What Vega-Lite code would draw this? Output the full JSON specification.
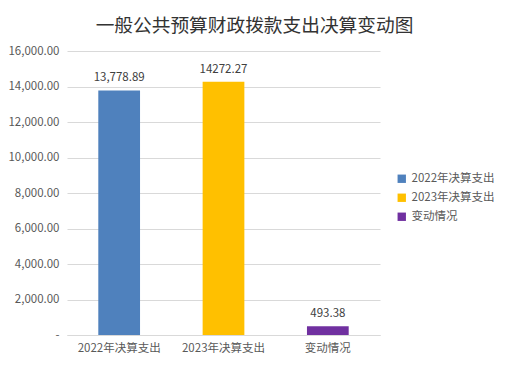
{
  "$schema": "https://vega.github.io/schema/vega-lite/v6.json",
  "width": 313,
  "height": 284,
  "autosize": {"type": "none"},
  "padding": {"left": 67, "top": 51, "right": 128, "bottom": 34},
  "background": "white",
  "title": {
    "text": "一般公共预算财政拨款支出决算变动图",
    "font": "Noto Sans CJK SC",
    "fontSize": 18.7,
    "fontWeight": "normal",
    "color": "#333333",
    "anchor": "middle",
    "dx": 31,
    "offset": 9
  },
  "data": {
    "values": [
      {"cat": "2022年决算支出", "value": 13778.89, "label": "13,778.89"},
      {"cat": "2023年决算支出", "value": 14272.27, "label": "14272.27"},
      {"cat": "变动情况", "value": 493.38, "label": "493.38"}
    ]
  },
  "encoding": {
    "x": {
      "field": "cat",
      "type": "nominal",
      "sort": null,
      "scale": {"paddingInner": 0.6, "paddingOuter": 0.3},
      "axis": {
        "title": null,
        "labelAngle": 0,
        "labelFont": "Noto Sans CJK SC",
        "labelFontSize": 11.5,
        "labelColor": "#595959",
        "labelPadding": 7,
        "ticks": false,
        "domainColor": "#d9d9d9",
        "grid": false
      }
    },
    "y": {
      "field": "value",
      "type": "quantitative",
      "scale": {"domain": [0, 16000], "nice": false},
      "axis": {
        "title": null,
        "values": [0, 2000, 4000, 6000, 8000, 10000, 12000, 14000, 16000],
        "labelExpr": "datum.value == 0 ? '-' : format(datum.value, ',.2f')",
        "labelFont": "Noto Sans CJK SC",
        "labelFontSize": 11.5,
        "labelColor": "#595959",
        "labelPadding": 8,
        "ticks": false,
        "domain": false,
        "gridColor": "#d9d9d9"
      }
    }
  },
  "layer": [
    {
      "mark": {"type": "bar"},
      "encoding": {
        "color": {
          "field": "cat",
          "type": "nominal",
          "sort": null,
          "scale": {"range": ["#4F81BD", "#FFC000", "#7030A0"]},
          "legend": {
            "title": null,
            "orient": "none",
            "legendX": 329,
            "legendY": 122,
            "symbolType": "square",
            "symbolSize": 70,
            "symbolStrokeWidth": 0,
            "labelFont": "Noto Sans CJK SC",
            "labelFontSize": 11.5,
            "labelColor": "#595959",
            "rowPadding": 6,
            "labelOffset": 4
          }
        }
      }
    },
    {
      "mark": {
        "type": "text",
        "baseline": "bottom",
        "dy": -7,
        "font": "Noto Sans CJK SC",
        "fontSize": 11.5,
        "color": "#404040"
      },
      "encoding": {"text": {"field": "label"}}
    }
  ],
  "config": {"view": {"stroke": null}}
}
